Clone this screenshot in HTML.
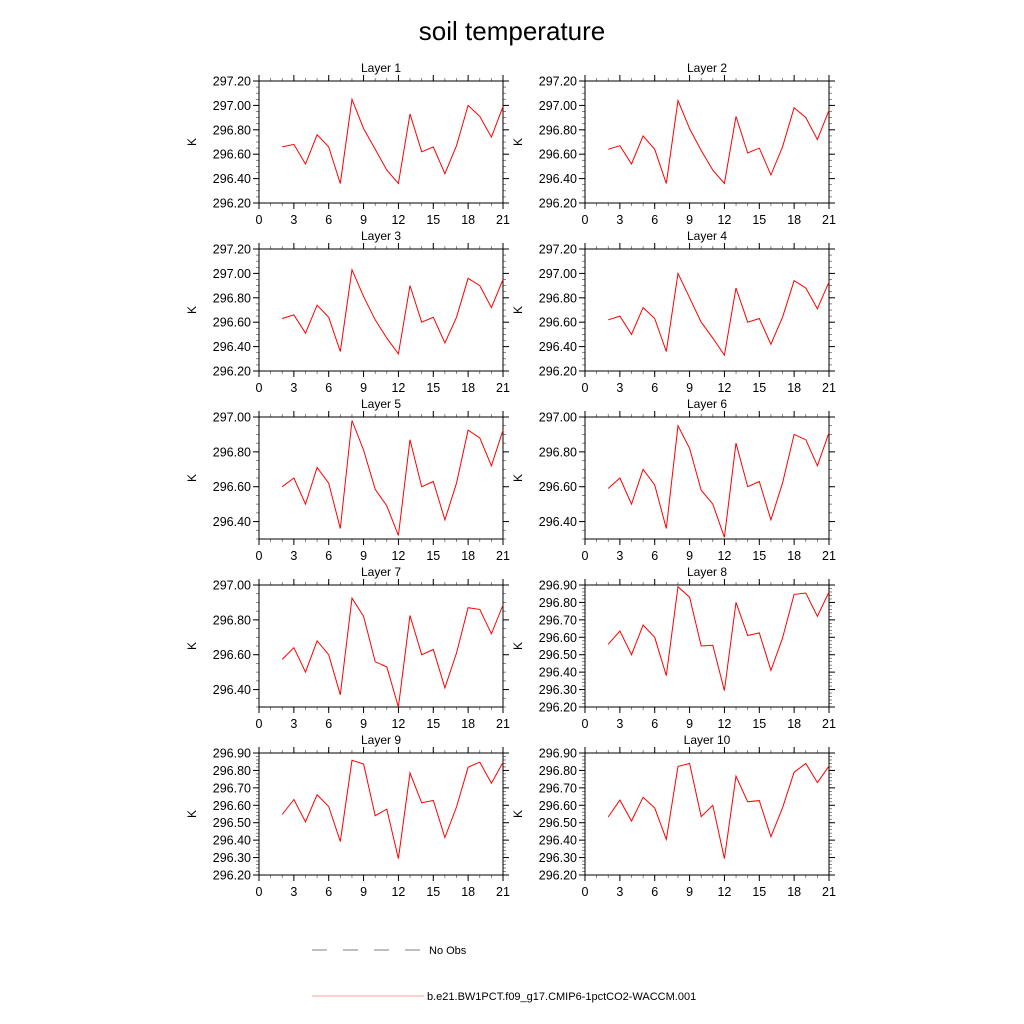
<!DOCTYPE html>
<html><head><meta charset="utf-8"><style>
html,body{margin:0;padding:0;background:#fff;}
svg{display:block;font-family:"Liberation Sans",sans-serif;}
</style></head><body>
<svg id="c" width="1024" height="1024" viewBox="0 0 1024 1024">
<text x="512" y="40" text-anchor="middle" font-size="26">soil temperature</text>
<g id="panels"></g>
<g>
<line x1="312" y1="950" x2="420" y2="950" stroke="#555" stroke-width="0.8" stroke-dasharray="15,16"/>
<text x="429" y="954" font-size="11">No Obs</text>
<line x1="312" y1="996" x2="424" y2="996" stroke="#f08080" stroke-width="0.8"/>
<text x="427" y="1000" font-size="11">b.e21.BW1PCT.f09_g17.CMIP6-1pctCO2-WACCM.001</text>
</g>
</svg>
<script>
const years = [2,3,4,5,6,7,8,9,10,11,12,13,14,15,16,17,18,19,20,21];
const layer1 = [296.66,296.68,296.52,296.76,296.66,296.36,297.05,296.81,296.64,296.47,296.36,296.93,296.62,296.66,296.44,296.67,297.00,296.91,296.74,296.99];
const layer2 = [296.64,296.67,296.52,296.75,296.64,296.36,297.04,296.81,296.63,296.47,296.36,296.91,296.61,296.65,296.43,296.66,296.98,296.90,296.72,296.96];
const layer3 = [296.63,296.66,296.51,296.74,296.64,296.36,297.03,296.81,296.62,296.47,296.34,296.90,296.60,296.64,296.43,296.64,296.96,296.90,296.72,296.95];
const layer4 = [296.62,296.65,296.50,296.72,296.63,296.36,297.00,296.80,296.60,296.47,296.33,296.88,296.60,296.63,296.42,296.64,296.94,296.88,296.71,296.93];
const layer5 = [296.60,296.65,296.50,296.71,296.62,296.36,296.98,296.81,296.585,296.49,296.32,296.87,296.60,296.63,296.41,296.62,296.925,296.88,296.72,296.925];
const layer6 = [296.59,296.65,296.50,296.70,296.61,296.36,296.95,296.82,296.58,296.50,296.31,296.85,296.60,296.63,296.41,296.62,296.90,296.87,296.72,296.91];
const layer7 = [296.573,296.64,296.50,296.68,296.60,296.37,296.925,296.82,296.56,296.53,296.30,296.825,296.60,296.63,296.41,296.61,296.87,296.86,296.72,296.885];
const layer8 = [296.56,296.636,296.50,296.67,296.60,296.38,296.89,296.83,296.55,296.554,296.294,296.80,296.61,296.625,296.41,296.595,296.846,296.854,296.72,296.86];
const layer9 = [296.547,296.633,296.505,296.66,296.593,296.392,296.858,296.837,296.54,296.578,296.294,296.785,296.614,296.628,296.415,296.59,296.818,296.848,296.727,296.846];
const layer10 = [296.533,296.63,296.51,296.646,296.585,296.404,296.823,296.84,296.535,296.60,296.294,296.767,296.62,296.627,296.42,296.585,296.79,296.84,296.73,296.825];
const xTicks = [0,3,6,9,12,15,18,21];
const yRangeA = [296.2, 297.2];
const yRangeB = [296.3, 297.0];
const yRangeC = [296.2, 296.9];
const series = [layer1,layer2,layer3,layer4,layer5,layer6,layer7,layer8,layer9,layer10];
const ranges = [yRangeA,yRangeA,yRangeA,yRangeA,yRangeB,yRangeB,yRangeB,yRangeC,yRangeC,yRangeC];

const NS="http://www.w3.org/2000/svg";
const root=document.getElementById('panels');
function mk(tag,attrs,parent){const e=document.createElementNS(NS,tag);for(const k in attrs)e.setAttribute(k,attrs[k]);parent.appendChild(e);return e;}
const W=244,H=122;
series.forEach((vals,i)=>{
  const col=i%2,row=Math.floor(i/2);
  const x0=col?585:259, y0=81+row*168;
  const [ymin,ymax]=ranges[i];
  const sx=v=>x0+(v-0)/21*W;
  const sy=v=>y0+H-(v-ymin)/(ymax-ymin)*H;
  const g=mk('g',{},root);
  
  
  const t=mk('text',{x:x0+W/2,y:y0-9,'text-anchor':'middle','font-size':12},g);
  t.textContent='Layer '+(i+1);
  
  
  // minor x ticks
  for(let v=0;v<=21;v++){
    mk('line',{x1:sx(v),x2:sx(v),y1:y0+H,y2:y0+H+3,stroke:'#555','stroke-width':0.7},g);
    mk('line',{x1:sx(v),x2:sx(v),y1:y0,y2:y0-3,stroke:'#555','stroke-width':0.7},g);
  }
  xTicks.forEach(v=>{
    mk('line',{x1:sx(v),x2:sx(v),y1:y0+H,y2:y0+H+6,stroke:'#000','stroke-width':1},g);
    mk('line',{x1:sx(v),x2:sx(v),y1:y0,y2:y0-6,stroke:'#000','stroke-width':1},g);
    const l=mk('text',{x:sx(v),y:y0+H+21,'text-anchor':'middle','font-size':12.5},g);
    l.textContent=v;
    
    
  });
  const span=ymax-ymin;
  const minorStep = span>0.8?0.05:(i>=7?0.02:0.05);
  const majorStep = i>=7?0.1:0.2;
  const nMin=Math.round(span/minorStep);
  for(let k=0;k<=nMin;k++){
    const v=ymin+k*minorStep;
    mk('line',{x1:x0,x2:x0-3,y1:sy(v),y2:sy(v),stroke:'#555','stroke-width':0.7},g);
    mk('line',{x1:x0+W,x2:x0+W+3,y1:sy(v),y2:sy(v),stroke:'#555','stroke-width':0.7},g);
  }
  const startMaj=Math.ceil(ymin/majorStep-1e-6)*majorStep;
  for(let v=startMaj;v<=ymax+1e-6;v+=majorStep){
    mk('line',{x1:x0,x2:x0-6,y1:sy(v),y2:sy(v),stroke:'#000','stroke-width':1},g);
    mk('line',{x1:x0+W,x2:x0+W+6,y1:sy(v),y2:sy(v),stroke:'#000','stroke-width':1},g);
    const l=mk('text',{x:x0-8,y:sy(v)+4.5,'text-anchor':'end','font-size':12.5},g);
    l.textContent=v.toFixed(2);
    
    
  }
  const k=mk('text',{x:0,y:0,'text-anchor':'middle','font-size':12,transform:`translate(${x0-63},${y0+H/2}) rotate(-90)`},g);
  k.textContent='K';
  
  
  const fr=mk('rect',{x:x0,y:y0,width:W,height:H,fill:'none',stroke:'#000','stroke-width':1},g);
  
  
  const pts=vals.map((v,j)=>sx(years[j]).toFixed(1)+','+sy(v).toFixed(1)).join(' ');
  const pl=mk('polyline',{points:pts,fill:'none',stroke:'#ff0000','stroke-width':1},g);
  
  
});
</script>
</body></html>
